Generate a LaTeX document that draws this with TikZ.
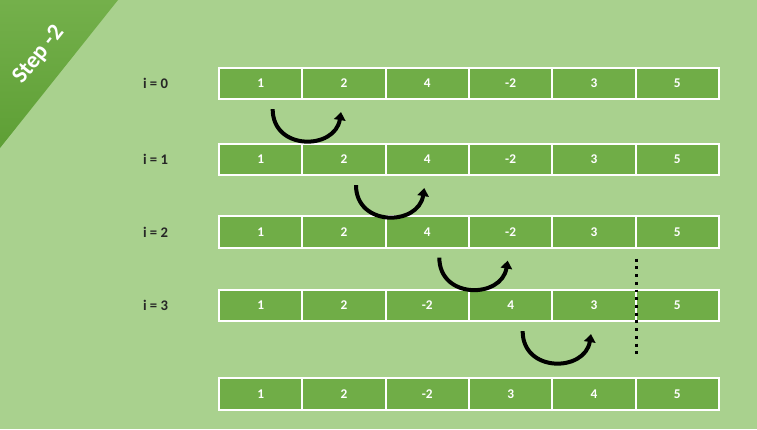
\documentclass[tikz,border=0pt]{standalone}
\usepackage{fontspec}
\setmainfont{Carlito}
\usetikzlibrary{arrows.meta,positioning,calc,shadows}
\definecolor{slidebg}{HTML}{A9D18E}
\definecolor{cellgreen}{HTML}{70AD47}
\definecolor{tabtop}{HTML}{74B04B}
\definecolor{tabbot}{HTML}{5E9F35}

\begin{document}
\begin{tikzpicture}[
  x=0.75pt, y=-0.75pt,
  cell/.style={draw=white, line width=1.4pt, fill=cellgreen, minimum width=62.5pt,
               minimum height=23.5pt, inner sep=0pt, text=white,
               font=\fontsize{10}{12}\selectfont\bfseries,
               drop shadow={shadow xshift=0.9pt, shadow yshift=-0.9pt, opacity=0.35, fill=black!70}},
  ilbl/.style={font=\fontsize{11}{13}\selectfont\bfseries, text=black!85},
  tagtext/.style={font=\fontsize{17.5}{20}\selectfont\bfseries, text=white},
  swaparr/.style={line width=3pt, -{Triangle[length=6pt,width=8.5pt]}},
  sortline/.style={line width=2.2pt, dash pattern=on 2.2pt off 3.6pt}
]
\fill[slidebg] (0,0) rectangle (757,429);
\shade[top color=tabtop, bottom color=tabbot] (0,0) -- (118,0) -- (0,148) -- cycle;
\node[tagtext, rotate=51.4] (steptag) at (39,55) {Step -2};

% array rows
\foreach \row/\yy/\vals in {0/83.5/{1,2,4,-2,3,5}, 1/159.5/{1,2,4,-2,3,5},
                            2/232/{1,2,4,-2,3,5}, 3/305.5/{1,2,-2,4,3,5},
                            4/394/{1,2,-2,3,4,5}} {
  \foreach \v [count=\c] in \vals
    \node[cell] (r\row c\c) at ({219+83.33*(\c-0.5)},\yy) {\v};
}

% pass labels and swaps
\foreach \row in {0,...,3} {
  \pgfmathtruncatemacro\a{\row+1}
  \pgfmathtruncatemacro\b{\row+2}
  \node[ilbl, left=34pt of r\row c1] (i\row) {i = \row};
  \draw[swaparr] ($(r\row c\a.south)+(12,9)$) .. controls +(0,42) and +(-6,38) .. ($(r\row c\b.south)+(-3,12)$);
}

% sorted part
\coordinate (dtop) at ($(r2c5.south east)+(0,10)$);
\coordinate (dbot) at ($(r3c5.south east)+(0,32)$);
\draw[sortline] (dtop) -- (dbot);
\end{tikzpicture}
\end{document}
